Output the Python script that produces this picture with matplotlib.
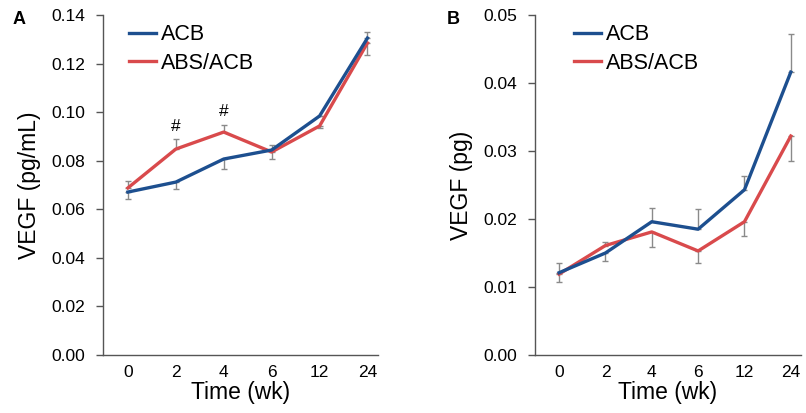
import matplotlib
matplotlib.use("Agg")
import matplotlib.pyplot as plt
import numpy as np

plt.rcParams['font.family'] = ['Liberation Sans', 'DejaVu Sans']

time_labels = ["0", "2", "4", "6", "12", "24"]
series_names = ["ACB", "ABS/ACB"]

# Panel A: VEGF (pg/mL)
a_acb = [0.0671, 0.0712, 0.0807, 0.0844, 0.0984, 0.1305]
a_abs = [0.0688, 0.0848, 0.0918, 0.0836, 0.0943, 0.1285]
a_acb_lo = [0.003, 0.003, 0.004, 0.0, 0.0, 0.0]
a_acb_hi = [0.0, 0.0, 0.0, 0.002, 0.0, 0.0025]
a_abs_lo = [0.0, 0.0, 0.0, 0.003, 0.001, 0.005]
a_abs_hi = [0.003, 0.004, 0.003, 0.0, 0.0, 0.0]
a_sig = ["", "#", "#", "", "", ""]

# Panel B: VEGF (pg)
b_acb = [0.0121, 0.0150, 0.0196, 0.0185, 0.0243, 0.0416]
b_abs = [0.0119, 0.0161, 0.0181, 0.0153, 0.0196, 0.0322]
b_acb_lo = [0.0, 0.0012, 0.0, 0.0, 0.0, 0.0]
b_acb_hi = [0.0015, 0.0, 0.002, 0.003, 0.002, 0.0056]
b_abs_lo = [0.0012, 0.0, 0.0022, 0.0018, 0.0021, 0.0037]
b_abs_hi = [0.0, 0.0005, 0.0, 0.0, 0.0, 0.0]

blue = "#1d4f8f"
red = "#d94a4c"
spine_c = "#555555"
err_c = "#8a8a8a"

fig = plt.figure(figsize=(8.06, 4.13), dpi=100)
axA = fig.add_axes([103/806, 1-355/413, 275/806, 340/413])
axB = fig.add_axes([535/806, 1-355/413, 266/806, 340/413])

x = np.arange(len(time_labels))

def draw(ax, acb, abs_, acb_lo, acb_hi, abs_lo, abs_hi, ymax, step, ylabel, legx):
    ax.errorbar(x, acb, yerr=[acb_lo, acb_hi], fmt='none', ecolor=err_c, elinewidth=1.0, capsize=2.5, capthick=1.0, zorder=1)
    ax.errorbar(x, abs_, yerr=[abs_lo, abs_hi], fmt='none', ecolor=err_c, elinewidth=1.0, capsize=2.5, capthick=1.0, zorder=1)
    ax.plot(x, acb, color=blue, lw=2.4, label=series_names[0], zorder=3)
    ax.plot(x, abs_, color=red, lw=2.4, label=series_names[1], zorder=2)
    ax.set_ylim(0, ymax)
    ax.set_xlim(-0.52, 5.22)
    ax.set_yticks(np.arange(0, ymax + step/2, step))
    ax.set_xticks(x)
    ax.set_xticklabels(time_labels)
    for s in ['top', 'right']:
        ax.spines[s].set_visible(False)
    for s in ['left', 'bottom']:
        ax.spines[s].set_color(spine_c)
        ax.spines[s].set_linewidth(1.0)
    ax.tick_params(axis='y', direction='out', length=5, width=1, color=spine_c, labelsize=12.5, pad=8)
    ax.tick_params(axis='x', length=0, labelsize=12.5, pad=7)
    ax.set_xlabel("Time (wk)", fontsize=16.5, labelpad=1)
    ax.set_ylabel(ylabel, fontsize=16.5, labelpad=7)
    ax.legend(loc='upper left', bbox_to_anchor=(legx, 1.03), frameon=False, fontsize=15.5,
              handlelength=1.25, handletextpad=0.2, labelspacing=0.35, borderaxespad=0.5)
    ax.yaxis.set_major_formatter(matplotlib.ticker.FormatStrFormatter('%.2f'))

draw(axA, a_acb, a_abs, a_acb_lo, a_acb_hi, a_abs_lo, a_abs_hi, 0.14, 0.02, "VEGF (pg/mL)", 0.025)
for xi, s, v, e in zip(x, a_sig, a_abs, a_abs_hi):
    if s:
        axA.annotate(s, (xi, v + e), xytext=(0, 4), textcoords='offset points',
                     ha='center', va='bottom', fontsize=12.5)

draw(axB, b_acb, b_abs, b_acb_lo, b_acb_hi, b_abs_lo, b_abs_hi, 0.05, 0.01, "VEGF (pg)", 0.075)

fig.text(19/806, 1-19/413, "A", fontsize=13, fontweight='bold', ha='center', va='center')
fig.text(453/806, 1-19/413, "B", fontsize=13, fontweight='bold', ha='center', va='center')

fig.savefig("out.png", dpi=100)
